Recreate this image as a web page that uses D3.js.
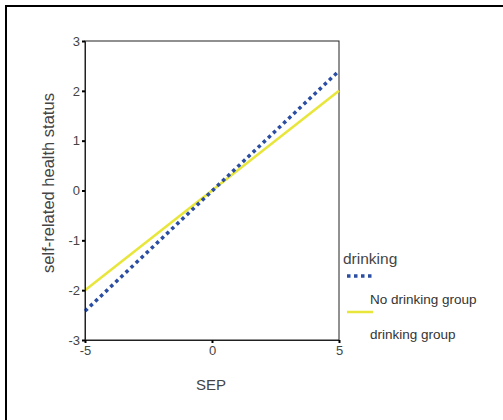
<!DOCTYPE html>
<html>
<head>
<meta charset="utf-8">
<script src="https://cdn.jsdelivr.net/npm/d3@7"></script>
<style>
  body { margin: 0; background: #fff; }
  text { font-family: "Liberation Sans", Arial, sans-serif; }
</style>
</head>
<body>
<div id="main"></div>
<script>
// chart values
var sepRange = [-5, 5];
var noDrinking = [[-5, -2.42], [5, 2.4]];
var drinking = [[-5, -2.0], [5, 2.0]];
var xTicks = [-5, 0, 5];
var yTicks = [-3, -2, -1, 0, 1, 2, 3];
var legendTitle = "drinking";
var legendLabels = ["No drinking group", "drinking group"];

var ctx = {
    w: 503,
    h: 420,
    blue: "#2b4ea3",
    yellow: "#e8e63a",
};

var x = d3.scaleLinear().domain(sepRange).range([85, 339]);
var y = d3.scaleLinear().domain([-3, 3]).range([340, 41]);

var svg = d3.select("#main").append("svg")
    .attr("width", ctx.w)
    .attr("height", ctx.h);

// outer frame (runs past the right and bottom edges)
svg.append("rect")
    .attr("x", 6).attr("y", 6)
    .attr("width", 600).attr("height", 600)
    .attr("fill", "none")
    .attr("stroke", "#000")
    .attr("stroke-width", 2);

// plot box
svg.append("rect")
    .attr("x", x(-5)).attr("y", y(3))
    .attr("width", x(5) - x(-5)).attr("height", y(-3) - y(3))
    .attr("fill", "none")
    .attr("stroke", "#222")
    .attr("stroke-width", 1);

var line = d3.line()
    .x(function (d) { return x(d[0]); })
    .y(function (d) { return y(d[1]); });

svg.append("path")
    .datum(drinking)
    .attr("d", line)
    .attr("fill", "none")
    .attr("stroke", ctx.yellow)
    .attr("stroke-width", 2.5);

svg.append("path")
    .datum(noDrinking)
    .attr("d", line)
    .attr("fill", "none")
    .attr("stroke", ctx.blue)
    .attr("stroke-width", 3.5)
    .attr("stroke-dasharray", "3.5,3.5");

// axes, plain hyphen for minus like the original
var fmt = function (d) { return String(d); };
var yAxis = d3.axisLeft(y).tickValues(yTicks).tickSize(3).tickFormat(fmt);
var gy = svg.append("g").attr("transform", "translate(" + x(-5) + ",0)").call(yAxis);
var xAxis = d3.axisBottom(x).tickValues(xTicks).tickSize(3).tickFormat(fmt);
var gx = svg.append("g").attr("transform", "translate(0," + y(-3) + ")").call(xAxis);

[gy, gx].forEach(function (g) {
    g.select(".domain").attr("stroke", "#222");
    g.selectAll(".tick line").attr("stroke", "#000").attr("stroke-width", 2);
    g.selectAll(".tick text")
        .attr("fill", "#444")
        .style("font-family", "\"Liberation Sans\", Arial, sans-serif")
        .style("font-size", "13px");
});
gy.selectAll(".tick text").attr("x", -5);
gx.selectAll(".tick text").attr("y", 6);

// axis titles
svg.append("text")
    .attr("transform", "translate(54,183) rotate(-90)")
    .attr("text-anchor", "middle")
    .attr("fill", "#444")
    .style("font-size", "16.5px")
    .text("self-related health status");

svg.append("text")
    .attr("x", 211).attr("y", 390)
    .attr("text-anchor", "middle")
    .attr("fill", "#444")
    .style("font-size", "15px")
    .text("SEP");

// legend
var lg = svg.append("g");
lg.append("text")
    .attr("x", 343).attr("y", 264)
    .attr("fill", "#444")
    .style("font-size", "15.5px")
    .text(legendTitle);

lg.append("line")
    .attr("x1", 347).attr("x2", 374)
    .attr("y1", 276).attr("y2", 276)
    .attr("stroke", ctx.blue)
    .attr("stroke-width", 3.5)
    .attr("stroke-dasharray", "3.5,3.5");

lg.append("line")
    .attr("x1", 347).attr("x2", 373)
    .attr("y1", 312).attr("y2", 312)
    .attr("stroke", ctx.yellow)
    .attr("stroke-width", 2.5);

lg.selectAll("text.lab")
    .data(legendLabels)
    .enter()
    .append("text")
    .attr("class", "lab")
    .attr("x", 370)
    .attr("y", function (d, i) { return 304 + i * 35; })
    .attr("fill", "#333")
    .style("font-size", "13.5px")
    .text(function (d) { return d; });
</script>
</body>
</html>
